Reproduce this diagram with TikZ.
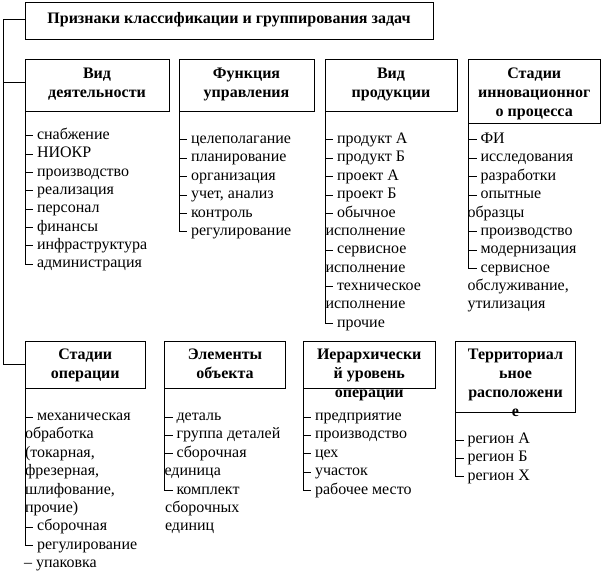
\documentclass[tikz,border=0pt]{standalone}
\usepackage{fontspec}
\setmainfont{Liberation Serif}
\newcommand\tk[1]{\draw ([shift={(-12pt,3.6pt)}]#1.base west) -- ++(8,0);}
\newcommand\lastk[2]{\draw (#1.south west) |- ([shift={(-4pt,3.6pt)}]#2.base west);}
\begin{document}
\begin{tikzpicture}[x=1pt,y=-1pt,line width=1pt,
  every node/.style={inner sep=0pt,outer sep=0pt,font=\fontsize{16}{18.35}\selectfont},
  box/.style={draw,anchor=north west},
  head/.style={anchor=north,align=center,font=\fontsize{16}{19}\selectfont\bfseries},
  item/.style={anchor=base west}]
\useasboundingbox (0,0) rectangle (604,572);
% title
\node[box,minimum width=408pt,minimum height=37pt] (title) at (25,3) {};
\node[anchor=base,font=\fontsize{16}{18.35}\selectfont\bfseries] (titletext) at (229,24) {Признаки классификации и группирования задач};
% boxes row 1
\node[box,minimum width=144pt,minimum height=51.5pt] (b1) at (25,60) {};
\node[box,minimum width=135pt,minimum height=51.5pt] (b2) at (179,60) {};
\node[box,minimum width=132pt,minimum height=51.5pt] (b3) at (325,60) {};
\node[box,minimum width=131.5pt,minimum height=63.5pt] (b4) at (468.5,60) {};
% boxes row 2
\node[box,minimum width=120.5pt,minimum height=47pt] (b5) at (25,341) {};
\node[box,minimum width=121pt,minimum height=47pt] (b6) at (164.5,341) {};
\node[box,minimum width=132.5pt,minimum height=47pt] (b7) at (303,341) {};
\node[box,minimum width=120pt,minimum height=71pt] (b8) at (455.5,341) {};
% headings
\node[head] (h1) at (b1.north |- 0,65.7) {\strut Вид\\деятельности};
\node[head] (h2) at (b2.north |- 0,65.7) {\strut Функция\\управления};
\node[head] (h3) at (b3.north |- 0,65.7) {\strut Вид\\продукции};
\node[head] (h4) at (b4.north |- 0,65.7) {\strut Стадии\\инновационног\\о процесса};
\node[head] (h5) at (b5.north |- 0,345.7) {\strut Стадии\\операции};
\node[head] (h6) at (b6.north |- 0,345.7) {\strut Элементы\\объекта};
\node[head] (h7) at (b7.north |- 0,345.7) {\strut Иерархически\\й уровень\\операции};
\node[head] (h8) at (b8.north |- 0,345.7) {\strut Территориал\\ьное\\расположени\\е};
% main spine
\coordinate (sp) at (3,0);
\coordinate (tw) at ([yshift=1.5pt]title.west);
\coordinate (w1) at ([yshift=3.5pt]b1.west);
\draw (tw) -- (tw -| sp) -- (b5.west -| sp) -- (b5.west);
\draw (w1 -| sp) -- (w1);
% column A
\node[item] (a0) at (37,139.3) {снабжение};
\node[item] (a1) at (37,157.65) {НИОКР};
\node[item] (a2) at (37,176.0) {производство};
\node[item] (a3) at (37,194.35) {реализация};
\node[item] (a4) at (37,212.7) {персонал};
\node[item] (a5) at (37,231.05) {финансы};
\node[item] (a6) at (37,249.4) {инфраструктура};
\node[item] (a7) at (37,267.75) {администрация};
\foreach \n in {a0,a1,a2,a3,a4,a5,a6} {\tk{\n}}
\lastk{b1}{a7}
% column B
\node[item] (c0) at (191,143.6) {целеполагание};
\node[item] (c1) at (191,161.95) {планирование};
\node[item] (c2) at (191,180.3) {организация};
\node[item] (c3) at (191,198.65) {учет, анализ};
\node[item] (c4) at (191,217.0) {контроль};
\node[item] (c5) at (191,235.35) {регулирование};
\foreach \n in {c0,c1,c2,c3,c4} {\tk{\n}}
\lastk{b2}{c5}
% column C
\node[item] (p0) at (337,143.6) {продукт А};
\node[item] (p1) at (337,161.95) {продукт Б};
\node[item] (p2) at (337,180.3) {проект А};
\node[item] (p3) at (337,198.65) {проект Б};
\node[item] (p4) at (337,217.0) {обычное};
\node[item] (p5) at (325.5,235.35) {исполнение};
\node[item] (p6) at (337,253.7) {сервисное};
\node[item] (p7) at (325.5,272.05) {исполнение};
\node[item] (p8) at (337,290.4) {техническое};
\node[item] (p9) at (325.5,308.75) {исполнение};
\node[item] (p10) at (337,327.1) {прочие};
\foreach \n in {p0,p1,p2,p3,p4,p6,p8} {\tk{\n}}
\lastk{b3}{p10}
% column D
\node[item] (d0) at (480.5,143.6) {ФИ};
\node[item] (d1) at (480.5,161.95) {исследования};
\node[item] (d2) at (480.5,180.3) {разработки};
\node[item] (d3) at (480.5,198.65) {опытные};
\node[item] (d4) at (467.5,217.0) {образцы};
\node[item] (d5) at (480.5,235.35) {производство};
\node[item] (d6) at (480.5,253.7) {модернизация};
\node[item] (d7) at (480.5,272.05) {сервисное};
\node[item] (d8) at (467.5,290.4) {обслуживание,};
\node[item] (d9) at (467.5,308.75) {утилизация};
\foreach \n in {d0,d1,d2,d3,d5,d6} {\tk{\n}}
\lastk{b4}{d7}
% column E
\node[item] (e0) at (37,420.6) {механическая};
\node[item] (e1) at (25,438.95) {обработка};
\node[item] (e2) at (25,457.3) {(токарная,};
\node[item] (e3) at (25,475.65) {фрезерная,};
\node[item] (e4) at (25,494.0) {шлифование,};
\node[item] (e5) at (25,512.35) {прочие)};
\node[item] (e6) at (37,530.7) {сборочная};
\node[item] (e7) at (37,549.05) {регулирование};
\node[item] (e8) at (24,567.4) {– упаковка};
\foreach \n in {e0,e6} {\tk{\n}}
\lastk{b5}{e7}
% column F
\node[item] (f0) at (176.5,420.6) {деталь};
\node[item] (f1) at (176.5,438.95) {группа деталей};
\node[item] (f2) at (176.5,457.3) {сборочная};
\node[item] (f3) at (164.5,475.65) {единица};
\node[item] (f4) at (176.5,494.0) {комплект};
\node[item] (f5) at (165,512.35) {сборочных};
\node[item] (f6) at (165,530.7) {единиц};
\foreach \n in {f0,f1,f2} {\tk{\n}}
\lastk{b6}{f4}
% column G
\node[item] (g0) at (315,420.6) {предприятие};
\node[item] (g1) at (315,438.95) {производство};
\node[item] (g2) at (315,457.3) {цех};
\node[item] (g3) at (315,475.65) {участок};
\node[item] (g4) at (315,494.0) {рабочее место};
\foreach \n in {g0,g1,g2,g3} {\tk{\n}}
\lastk{b7}{g4}
% column H
\node[item] (r0) at (467.5,443.6) {регион А};
\node[item] (r1) at (467.5,461.95) {регион Б};
\node[item] (r2) at (467.5,480.3) {регион Х};
\foreach \n in {r0,r1} {\tk{\n}}
\lastk{b8}{r2}
\end{tikzpicture}
\end{document}
